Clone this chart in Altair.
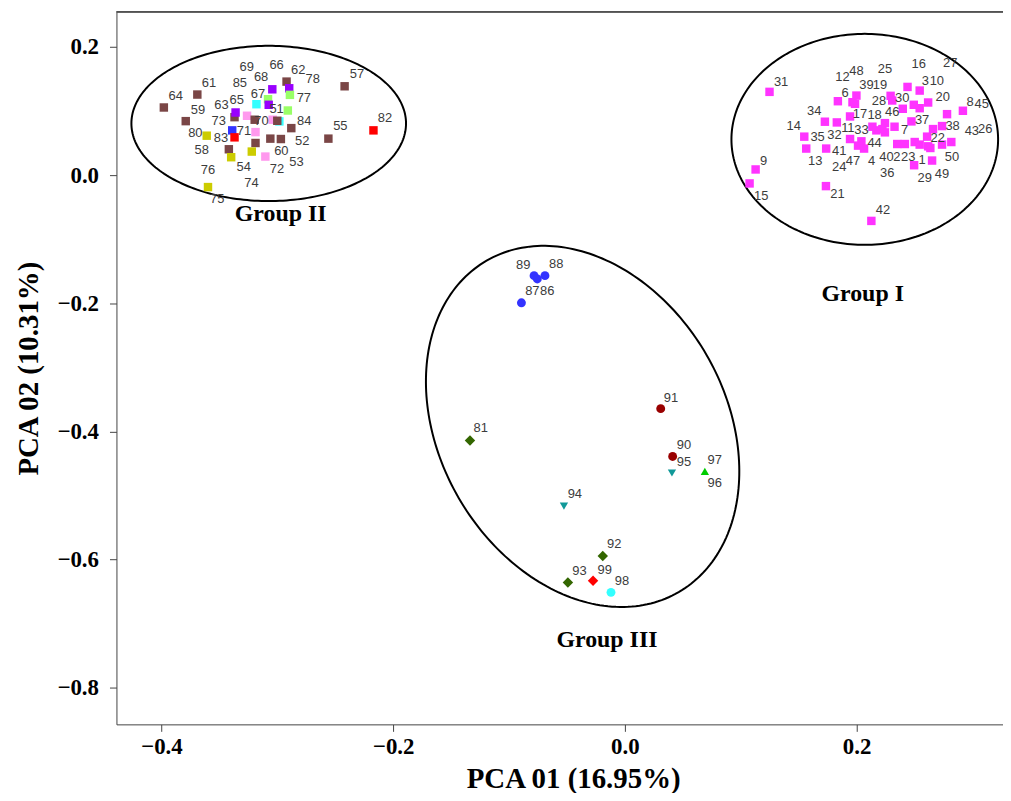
import altair as alt
import numpy as np
import pandas as pd

# ---- plot geometry / axis ranges ----
X_MIN, X_MAX = -0.4388, 0.3263
Y_MIN, Y_MAX = -0.8571, 0.2547
W, H = 891, 716
X_TICKS = [-0.4, -0.2, 0.0, 0.2]
Y_TICKS = [0.2, 0.0, -0.2, -0.4, -0.6, -0.8]

# ---- colours ----
MAGENTA = "#ff33ff"
BROWN = "#7a4646"
PURPLE = "#9900ff"
LGREEN = "#99ff66"
CYAN = "#33ffff"
PINK = "#ff99ee"
BLUE = "#3333ff"
RED = "#ff0000"
OLIVE = "#cccc00"
DARKRED = "#990000"
DKGREEN = "#336600"
TEAL = "#119999"
GREEN = "#00cc00"

# ---- Group I markers (squares) ----
g1_x = [0.1248, 0.1128, 0.1076, 0.1735, 0.2127, 0.1548, 0.1565, 0.1726, 0.1829, 0.1737,
        0.1838, 0.1998, 0.1964, 0.1986, 0.1943, 0.1943, 0.2041, 0.2012, 0.2064, 0.2136,
        0.2170, 0.2244, 0.2244, 0.2222, 0.2327, 0.2293, 0.2307, 0.2439, 0.2544, 0.2398,
        0.2493, 0.2544, 0.2617, 0.2473, 0.2350, 0.2416, 0.2501, 0.2544, 0.2608, 0.2659,
        0.2617, 0.2636, 0.2737, 0.2780, 0.2917, 0.2737, 0.2817, 0.2651, 0.2496]
g1_y = [0.1300, 0.0089, -0.0129, -0.0171, -0.0714, 0.0601, 0.0415, 0.0834, 0.0823, 0.0415,
        0.1154, 0.1242, 0.1138, 0.1113, 0.0916, 0.0564, 0.0528, 0.0461, 0.0415, 0.0756,
        0.0699, 0.0812, 0.0668, 0.0719, 0.0756, 0.1238, 0.1165, 0.1377, 0.1320, 0.1036,
        0.1098, 0.1045, 0.1134, 0.0839, 0.0486, 0.0486, 0.0517, 0.0477, 0.0601, 0.0719,
        0.0450, 0.0424, 0.0766, 0.0952, 0.1005, 0.0477, 0.0517, 0.0228, 0.0155]

# ---- Group II markers (squares, several colours) ----
g2_x = [-0.3979, -0.3690, -0.3790, -0.3369, -0.3360, -0.3261, -0.3180, -0.3080, -0.3043, -0.3074,
        -0.2920, -0.2897, -0.2891, -0.2909, -0.3195, -0.3040, -0.2982, -0.3000, -0.2879, -0.3389,
        -0.3369, -0.3188, -0.3188, -0.3060, -0.2969, -0.3609, -0.3418, -0.3398, -0.3220, -0.3103,
        -0.3598, -0.2419, -0.2559, -0.2170]
g2_y = [0.1056, 0.1258, 0.0843, 0.0905, 0.0978, 0.0927, 0.1107, 0.1185, 0.1340, 0.1098,
        0.1460, 0.1356, 0.1253, 0.1009, 0.0865, 0.0865, 0.0839, 0.0849, 0.0734, 0.0699,
        0.0590, 0.0672, 0.0502, 0.0570, 0.0564, 0.0616, 0.0404, 0.0280, 0.0368, 0.0290,
        -0.0186, 0.1387, 0.0570, 0.0699]
g2_c = [BROWN, BROWN, BROWN, BROWN, PURPLE, PINK, CYAN, LGREEN, PURPLE, PURPLE,
        BROWN, PURPLE, LGREEN, LGREEN, BROWN, PINK, CYAN, BROWN, BROWN, BLUE,
        RED, PINK, BROWN, BROWN, BROWN, OLIVE, BROWN, OLIVE, OLIVE, PINK,
        OLIVE, BROWN, BROWN, RED]

# ---- Group III markers ----
g3_x = [-0.0784, -0.0756, -0.0690, -0.0893, 0.0309, 0.0412, -0.1337, -0.0191, -0.0492, -0.0275,
        0.0406, -0.0526, 0.0690, -0.0120]
g3_y = [-0.1568, -0.1620, -0.1568, -0.1992, -0.3644, -0.4390, -0.4141, -0.5942, -0.6356, -0.6331,
        -0.4648, -0.5166, -0.4623, -0.6511]
g3_c = [BLUE, BLUE, BLUE, BLUE, DARKRED, DARKRED, DKGREEN, DKGREEN, DKGREEN, RED,
        TEAL, TEAL, GREEN, CYAN]
g3_s = ["circle", "circle", "circle", "circle", "circle", "circle", "diamond", "diamond", "diamond", "diamond",
        "triangle-down", "triangle-down", "triangle-up", "circle"]

# ---- sample labels ----
lab_text = ["31", "12", "48", "25", "16", "27", "39", "19", "3", "10", "6", "28", "30", "20", "8", "45",
            "34", "17", "18", "46", "14", "11", "33", "37", "7", "38", "43", "26", "35", "32", "44", "22",
            "13", "41", "47", "4", "40", "2", "23", "1", "50", "24", "36", "29", "49", "9", "15", "21", "42",
            "69", "66", "62", "78", "57", "61", "85", "68", "64", "67", "77", "63", "65", "59", "51", "73",
            "70", "84", "55", "82", "80", "71", "83", "52", "58", "60", "53", "54", "72", "76", "74", "75",
            "89", "88", "87", "86", "91", "81", "90", "95", "97", "96", "94", "92", "93", "99", "98"]
lab_x = [0.1348, 0.1878, 0.1998, 0.2244, 0.2536, 0.2808, 0.2084, 0.2201, 0.2593, 0.2692, 0.1901, 0.2192,
         0.2393, 0.2742, 0.2980, 0.3080, 0.1634, 0.2029, 0.2155, 0.2307, 0.1457, 0.1924, 0.2041, 0.2565,
         0.2413, 0.2828, 0.2994, 0.3109, 0.1663, 0.1809, 0.2155, 0.2699, 0.1643, 0.1849, 0.1969, 0.2130,
         0.2258, 0.2347, 0.2445, 0.2565, 0.2823, 0.1849, 0.2264, 0.2587, 0.2737, 0.1196, 0.1176, 0.1835,
         0.2227,
         -0.3263, -0.3006, -0.2819, -0.2694, -0.2313, -0.3589, -0.3323, -0.3140, -0.3876, -0.3166, -0.2771,
         -0.3482, -0.3350, -0.3684, -0.3006, -0.3506, -0.3137, -0.2768, -0.2456, -0.2070, -0.3707, -0.3288,
         -0.3486, -0.2785, -0.3652, -0.2965, -0.2834, -0.3289, -0.3003, -0.3598, -0.3223, -0.3518,
         -0.0878, -0.0593, -0.0799, -0.0670, 0.0398, -0.1245, 0.0509, 0.0509, 0.0775, 0.0775, -0.0432,
         -0.0092, -0.0392, -0.0174, -0.0026]
lab_y = [0.1460, 0.1537, 0.1630, 0.1657, 0.1728, 0.1744, 0.1408, 0.1408, 0.1470, 0.1470, 0.1278, 0.1160,
         0.1200, 0.1222, 0.1134, 0.1107, 0.1005, 0.0952, 0.0943, 0.0978, 0.0772, 0.0734, 0.0703, 0.0854,
         0.0710, 0.0761, 0.0694, 0.0725, 0.0590, 0.0632, 0.0502, 0.0579, 0.0217, 0.0384, 0.0217, 0.0228,
         0.0290, 0.0290, 0.0290, 0.0238, 0.0290, 0.0124, 0.0036, -0.0042, 0.0020, 0.0217, -0.0326, -0.0290,
         -0.0543,
         0.1693, 0.1719, 0.1641, 0.1502, 0.1573, 0.1433, 0.1433, 0.1533, 0.1231, 0.1273, 0.1200,
         0.1102, 0.1180, 0.1020, 0.1025, 0.0839, 0.0849, 0.0839, 0.0761, 0.0890, 0.0652, 0.0683,
         0.0579, 0.0528, 0.0388, 0.0373, 0.0202, 0.0129, 0.0089, 0.0078, -0.0129, -0.0373,
         -0.1398, -0.1387, -0.1812, -0.1812, -0.3478, -0.3949, -0.4219, -0.4477, -0.4441, -0.4803, -0.4980,
         -0.5761, -0.6175, -0.6160, -0.6331]

# ---- group names ----
grp_text = ["Group II", "Group I", "Group III"]
grp_x = [-0.2971, 0.2052, -0.0155]
grp_y = [-0.0606, -0.1848, -0.7252]

# ---- group ellipses: centre (data), semi-axes (px), rotation (deg) ----
ell_name = ["II", "I", "III"]
ell_cx = [-0.3074, 0.2070, -0.0365]
ell_cy = [0.0807, 0.0559, -0.3921]
ell_rx = [138.0, 134.0, 192.5]
ell_ry = [78.0, 106.0, 143.8]
ell_ang = [0.0, 0.0, 59.9]

PX_X = W / (X_MAX - X_MIN)
PX_Y = H / (Y_MAX - Y_MIN)

rows = []
t = np.linspace(0, 2 * np.pi, 241)
for n, cx, cy, rx, ry, ang in zip(ell_name, ell_cx, ell_cy, ell_rx, ell_ry, ell_ang):
    a = np.deg2rad(ang)
    dx = rx * np.cos(t) * np.cos(a) - ry * np.sin(t) * np.sin(a)
    dy = rx * np.cos(t) * np.sin(a) + ry * np.sin(t) * np.cos(a)
    for i in range(len(t)):
        rows.append({"e": n, "i": i, "x": cx + dx[i] / PX_X, "y": cy - dy[i] / PX_Y})
ell_df = pd.DataFrame(rows)

pts = []
for x, y in zip(g1_x, g1_y):
    pts.append({"x": x, "y": y, "color": MAGENTA, "shape": "square", "size": 72})
for x, y, c in zip(g2_x, g2_y, g2_c):
    pts.append({"x": x, "y": y, "color": c, "shape": "square", "size": 72})
size_map = {"circle": 80, "diamond": 110, "triangle-down": 70, "triangle-up": 70}
for x, y, c, s in zip(g3_x, g3_y, g3_c, g3_s):
    pts.append({"x": x, "y": y, "color": c, "shape": s, "size": size_map[s]})
pts_df = pd.DataFrame(pts)

lab_df = pd.DataFrame({"x": lab_x, "y": lab_y, "t": lab_text})
grp_df = pd.DataFrame({"x": grp_x, "y": grp_y, "t": grp_text})

SERIF = "Liberation Serif"

xenc = alt.X(
    "x:Q",
    scale=alt.Scale(domain=[X_MIN, X_MAX], nice=False, zero=False),
    axis=alt.Axis(
        values=X_TICKS, format=".1f", grid=False, domain=True, domainColor="#444444",
        tickColor="#444444", tickSize=7, labelFont=SERIF, labelFontWeight="bold",
        labelFontSize=23, labelColor="black", labelPadding=4,
        title="PCA 01 (16.95%)", titleFont=SERIF, titleFontWeight="bold", titleFontSize=29,
        titleColor="black", titleX=459, titleY=54, titleBaseline="middle", titleAlign="center",
    ),
)
yenc = alt.Y(
    "y:Q",
    scale=alt.Scale(domain=[Y_MIN, Y_MAX], nice=False, zero=False),
    axis=alt.Axis(
        values=Y_TICKS, format=".1f", grid=False, domain=True, domainColor="#444444",
        tickColor="#444444", tickSize=7, labelFont=SERIF, labelFontWeight="bold",
        labelFontSize=23, labelColor="black", labelPadding=11,
        title="PCA 02 (10.31%)", titleFont=SERIF, titleFontWeight="bold", titleFontSize=29,
        titleColor="black", titleX=-88, titleY=H / 2, titleBaseline="middle", titleAlign="center",
        titleAngle=270,
    ),
)

ellipses = alt.Chart(ell_df).mark_line(color="black", strokeWidth=2).encode(
    x=xenc, y=yenc, detail="e:N", order="i:Q"
)
points = alt.Chart(pts_df).mark_point(filled=True, opacity=1, strokeWidth=0).encode(
    x=xenc, y=yenc,
    color=alt.Color("color:N", scale=None),
    shape=alt.Shape("shape:N", scale=None),
    size=alt.Size("size:Q", scale=None),
)
labels = alt.Chart(lab_df).mark_text(
    font="Liberation Sans", fontSize=13, color="#3c3c3c", align="center", baseline="middle"
).encode(x=xenc, y=yenc, text="t:N")
groups = alt.Chart(grp_df).mark_text(
    font=SERIF, fontSize=24, fontWeight="bold", color="black", align="center", baseline="middle"
).encode(x=xenc, y=yenc, text="t:N")
topline = alt.Chart(grp_df).mark_rule(color="#444444", strokeWidth=1).encode(
    x=alt.value(0), x2=alt.value(W), y=alt.value(0)
)

chart = alt.layer(ellipses, points, labels, groups, topline).properties(
    width=W, height=H,
    autosize=alt.AutoSizeParams(type="none"),
    padding={"left": 109, "top": 2, "right": 0, "bottom": 67},
).configure_view(stroke=None)

chart.save("out.html", embed_options={"renderer": "svg", "actions": False})
